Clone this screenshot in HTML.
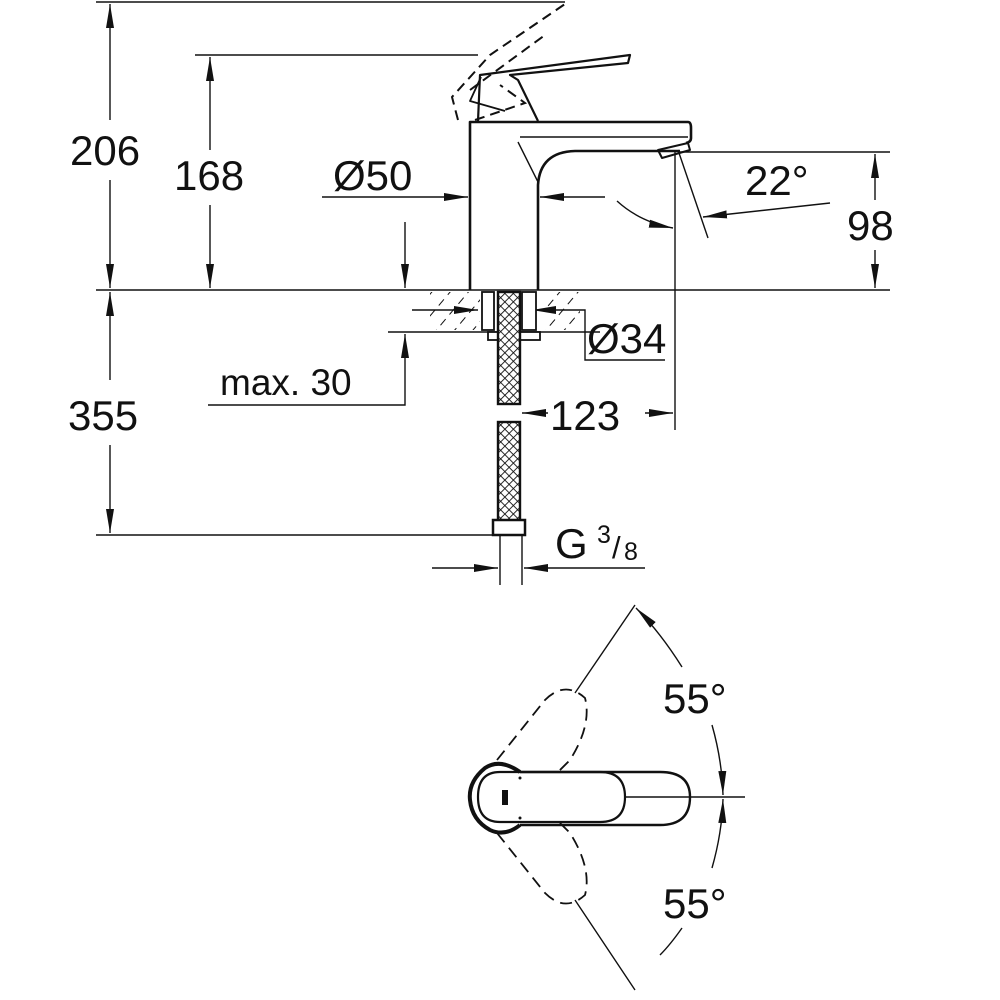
<!DOCTYPE html>
<html><head><style>
html,body{margin:0;padding:0;background:#fff;}
svg{display:block;}
text{font-family:"Liberation Sans",sans-serif;fill:#111;}
</style></head><body>
<svg width="1000" height="1000" viewBox="0 0 1000 1000" xmlns="http://www.w3.org/2000/svg">
<defs>
<marker id="b" viewBox="0 0 24 10" refX="24" refY="5" markerWidth="24" markerHeight="10" markerUnits="userSpaceOnUse" orient="auto"><path d="M0,1 L24,5 L0,9z" fill="#111"/></marker>
<pattern id="hatch" width="14" height="14" patternUnits="userSpaceOnUse" patternTransform="rotate(40)"><line x1="0" y1="0" x2="0" y2="14" stroke="#111" stroke-width="2" stroke-dasharray="8 6"/></pattern>
<pattern id="mesh" width="6" height="6" patternUnits="userSpaceOnUse" patternTransform="rotate(45)"><rect width="6" height="6" fill="#fff"/><path d="M0,0H6M0,0V6" stroke="#111" stroke-width="1.8"/></pattern>
</defs>
<g stroke="#111" fill="none" stroke-width="1.4">
<line x1="96" y1="2" x2="565" y2="2"/>
<line x1="195" y1="55" x2="478" y2="55"/>
<line x1="96" y1="290" x2="890" y2="290"/>
<line x1="96" y1="535" x2="500" y2="535"/>
<line x1="680" y1="152" x2="890" y2="152"/>
<line x1="675" y1="150" x2="675" y2="430"/>
<line x1="110" y1="120" x2="110" y2="4" marker-end="url(#b)"/>
<line x1="110" y1="180" x2="110" y2="288" marker-end="url(#b)"/>
<line x1="210" y1="150" x2="210" y2="57" marker-end="url(#b)"/>
<line x1="210" y1="205" x2="210" y2="288" marker-end="url(#b)"/>
<line x1="110" y1="380" x2="110" y2="292" marker-end="url(#b)"/>
<line x1="110" y1="445" x2="110" y2="533" marker-end="url(#b)"/>
<line x1="875" y1="200" x2="875" y2="154" marker-end="url(#b)"/>
<line x1="875" y1="250" x2="875" y2="288" marker-end="url(#b)"/>
<line x1="322" y1="197" x2="468" y2="197" marker-end="url(#b)"/>
<line x1="605" y1="197" x2="540" y2="197" marker-end="url(#b)"/>
<path d="M617,201 Q640,222 673,228" marker-end="url(#b)"/>
<line x1="678" y1="150" x2="708" y2="238"/>
<line x1="830" y1="203" x2="703" y2="217" marker-end="url(#b)"/>
<line x1="405" y1="222" x2="405" y2="288" marker-end="url(#b)"/>
<polyline points="208,405 405,405 405,334" marker-end="url(#b)"/>
<line x1="388" y1="332" x2="600" y2="332"/>
<line x1="412" y1="310" x2="478" y2="310" marker-end="url(#b)"/>
<line x1="560" y1="310" x2="532" y2="310" marker-end="url(#b)"/>
<polyline points="560,310 585,310 585,360 665,360"/>
<line x1="548" y1="413" x2="522" y2="413" marker-end="url(#b)"/>
<line x1="645" y1="413" x2="673" y2="413" marker-end="url(#b)"/>
<line x1="500" y1="535" x2="500" y2="585"/>
<line x1="522" y1="535" x2="522" y2="585"/>
<line x1="432" y1="568" x2="498" y2="568" marker-end="url(#b)"/>
<line x1="645" y1="568" x2="524" y2="568" marker-end="url(#b)"/>
</g>
<rect x="430" y="292" width="50" height="38" fill="url(#hatch)"/>
<rect x="545" y="292" width="35" height="38" fill="url(#hatch)"/>
<g stroke="#111" fill="#fff" stroke-width="1.8">
<rect x="482" y="292" width="12" height="38"/>
<rect x="522" y="292" width="14" height="38"/>
<rect x="488" y="332" width="52" height="8"/>
</g>
<rect x="498" y="292" width="22" height="112" fill="url(#mesh)" stroke="#111" stroke-width="2.4"/>
<rect x="498" y="422" width="22" height="100" fill="url(#mesh)" stroke="#111" stroke-width="2.4"/>
<rect x="493" y="520" width="32" height="15" fill="#fff" stroke="#111" stroke-width="2.5"/>
<g stroke="#111" fill="none" stroke-width="2.6" stroke-linejoin="round">
<path d="M470,290 V122 H688 Q691,122 691,128 V138 Q691,142 686,143"/>
<path d="M538,290 V185 Q540,152 575,151 H680"/>
<path d="M658,150 L688,143 L690,150 L662,158 Z" stroke-width="2"/>
<path d="M478,121 L480,75 L630,55 L628,63 L510,75 L518,80 L538,121" stroke-width="2.2"/>
<path d="M481,77 L470,101 L505,111" stroke-width="1.8"/>
</g>
<g stroke="#111" fill="none" stroke-width="1.4">
<line x1="520" y1="137" x2="688" y2="137"/>
<line x1="518" y1="142" x2="538" y2="182"/>
<path d="M458,120 L452,97 L490,55 L565,4 M475,120 L525,103 L500,85 M470,90 L545,35" stroke-dasharray="10 6" stroke-width="2"/>
</g>
<g stroke="#111" fill="none" stroke-width="1.4">
<line x1="575" y1="693" x2="635" y2="605"/>
<line x1="575" y1="900" x2="635" y2="990"/>
<line x1="625" y1="797" x2="745" y2="797"/>
<path d="M682,667 Q660,632 636,608" marker-end="url(#b)"/>
<path d="M712,725 Q722,760 723,795" marker-end="url(#b)"/>
<path d="M712,868 Q722,833 723,799" marker-end="url(#b)"/>
<path d="M682,928 Q670,945 660,955"/>
<path d="M497,760 L545,700 Q565,680 585,698 Q592,725 570,760 L555,775" stroke-dasharray="12 7" stroke-width="1.8"/>
<path d="M497,833 L545,893 Q565,913 585,895 Q592,868 570,833 L555,818" stroke-dasharray="12 7" stroke-width="1.8"/>
<path d="M520,772 H660 Q690,772 690,797 Q690,825 660,825 H520" stroke-width="2.4"/>
<path d="M520,772 Q500,758 485,768 Q468,782 470,800 Q472,820 490,830 Q505,837 520,825" stroke-width="4"/>
<path d="M500,772 H600 Q625,772 625,797 Q625,822 600,822 H500 Q478,822 478,797 Q478,772 500,772 Z" stroke-width="2.2"/>
</g>
<rect x="502" y="790" width="6" height="15" fill="#111"/>
<circle cx="520" cy="778" r="1.5" fill="#111"/><circle cx="520" cy="818" r="1.5" fill="#111"/>
<g font-size="42">
<text x="70" y="165">206</text>
<text x="174" y="190">168</text>
<text x="333" y="190">Ø50</text>
<text x="745" y="195">22°</text>
<text x="847" y="240">98</text>
<text x="587" y="353">Ø34</text>
<text x="220" y="395" font-size="37">max. 30</text>
<text x="68" y="430">355</text>
<text x="550" y="430">123</text>
<text x="555" y="558">G</text>
<text x="597" y="543" font-size="25">3</text>
<text x="612" y="558" font-size="31">/</text>
<text x="624" y="560" font-size="25">8</text>
<text x="663" y="713">55°</text>
<text x="663" y="918">55°</text>
</g>
</svg>
</body></html>
